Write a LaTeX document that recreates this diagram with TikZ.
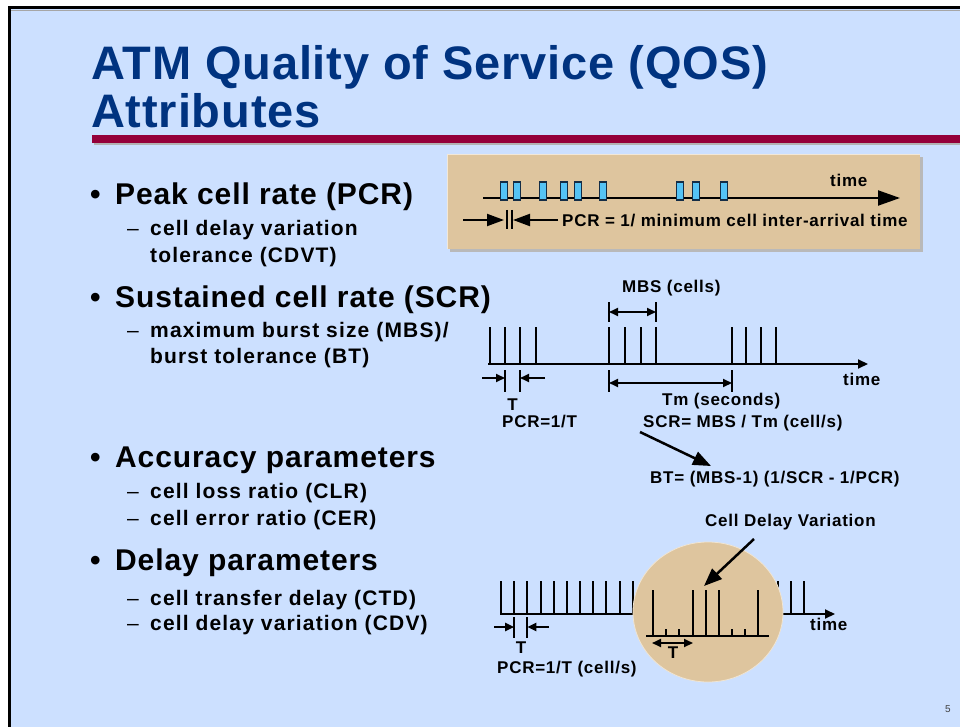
\documentclass[tikz,border=0pt]{standalone}
\usepackage{fontspec}
\setmainfont{Liberation Sans}
\usetikzlibrary{arrows.meta}

\definecolor{slidebg}{RGB}{204,224,255}
\definecolor{titleblue}{RGB}{0,51,128}
\definecolor{barred}{RGB}{148,0,58}
\definecolor{tanfill}{RGB}{222,197,158}
\definecolor{cellblue}{RGB}{85,195,245}
\definecolor{celledge}{RGB}{20,45,70}

% font sizes (1pt = one pixel of the slide)
\newcommand\fnTitle{\fontsize{47}{49}\bfseries\addfontfeatures{LetterSpace=1.8}}
\newcommand\fnTop{\fontsize{30}{32}\bfseries\addfontfeatures{LetterSpace=3}}
\newcommand\fnSub{\fontsize{21}{23}\bfseries\addfontfeatures{LetterSpace=5.5}}
\newcommand\fnDash{\fontsize{21}{23}\mdseries}
\newcommand\fnLab{\fontsize{17}{19}\bfseries\addfontfeatures{LetterSpace=4.4}}
\newcommand\fnPage{\fontsize{10}{12}\mdseries}

\begin{document}
\begin{tikzpicture}[x=1pt,y=-1pt,
  txt/.style={inner sep=0pt, anchor=base west},
  ctxt/.style={inner sep=0pt, anchor=base},
  lab/.style={txt, font=\fnLab},
  toptxt/.style={txt, font=\fnTop},
  subtxt/.style={txt, font=\fnSub},
  dashtxt/.style={txt, font=\fnDash},
  tickline/.style={line width=2pt},
  axisline/.style={line width=2pt, -{Triangle[length=10pt,width=9pt]}},
  bigarrow/.style={line width=2pt, -{Triangle[length=17pt,width=12pt]}},
  dimarrow/.style={line width=2pt, {Triangle[length=9pt,width=8pt]}-{Triangle[length=9pt,width=8pt]}},
  inarrow/.style={line width=2pt, -{Triangle[length=9pt,width=8pt]}},
  pointer/.style={line width=2.5pt, -{Triangle[length=18pt,width=14pt]}},
  cell/.style={fill=cellblue, draw=celledge, line width=1.2pt}]

\useasboundingbox (0,0) rectangle (960,727);
\fill[white] (0,0) rectangle (960,727);

% slide frame
\fill[slidebg] (9,8) rectangle (960,727);
\draw[gray!70, line width=1pt] (11,10.5) -- (960,10.5);
\draw[line width=3pt] (9.5,727) -- (9.5,8) -- (960,8);

% title
\node[txt, font=\fnTitle, text=titleblue] (title1) at (91,80) {ATM Quality of Service (QOS)};
\node[txt, font=\fnTitle, text=titleblue] (title2) at (91,128) {Attributes};
\fill[gray!60] (94,138) rectangle (960,145);
\fill[barred] (92,135) rectangle (960,143);

% bullet list
\node[toptxt] (b1d) at (90,205) {•};
\node[toptxt] (b1) at (115,205) {Peak cell rate (PCR)};
\node[dashtxt] (s1d) at (127,236) {–};
\node[subtxt] (s1) at (150,236) {cell delay variation};
\node[subtxt] (s1b) at (150,262) {tolerance (CDVT)};

\node[toptxt] (b2d) at (90,307) {•};
\node[toptxt] (b2) at (115,307) {Sustained cell rate (SCR)};
\node[dashtxt] (s2d) at (127,337) {–};
\node[subtxt] (s2) at (150,337) {maximum burst size (MBS)/};
\node[subtxt] (s2b) at (150,363) {burst tolerance (BT)};

\node[toptxt] (b3d) at (90,467) {•};
\node[toptxt] (b3) at (115,467) {Accuracy parameters};
\node[dashtxt] (s3d) at (127,498) {–};
\node[subtxt] (s3) at (150,498) {cell loss ratio (CLR)};
\node[dashtxt] (s4d) at (127,525) {–};
\node[subtxt] (s4) at (150,525) {cell error ratio (CER)};

\node[toptxt] (b4d) at (90,570) {•};
\node[toptxt] (b4) at (115,570) {Delay parameters};
\node[dashtxt] (s5d) at (127,605) {–};
\node[subtxt] (s5) at (150,605) {cell transfer delay (CTD)};
\node[dashtxt] (s6d) at (127,630) {–};
\node[subtxt] (s6) at (150,630) {cell delay variation (CDV)};

% ---- PCR panel ----
\fill[gray!55] (450,157) rectangle (923,252);
\fill[tanfill] (447,154) rectangle (920,249);
\draw[white!60!tanfill, line width=1pt] (447.5,249) -- (447.5,154.5) -- (920,154.5);
\coordinate (pA) at (483,198);
\coordinate (pB) at (900,198);
\draw[line width=2pt, -{Triangle[length=22pt,width=15pt]}] (pA) -- (pB);
\foreach \cx in {504,517,543,564,578,603,680,696,724}
  \draw[cell] (\cx-3.5,182) rectangle (\cx+3.5,200);
\node[lab] (ptime) at (830,187) {time};
\coordinate (pL0) at (463,220);
\coordinate (pL1) at (504,220);
\coordinate (pR0) at (558,220);
\coordinate (pR1) at (513,220);
\draw[bigarrow] (pL0) -- (pL1);
\draw[bigarrow] (pR0) -- (pR1);
\draw[line width=1.6pt] (507,210) -- (507,229) (512,210) -- (512,229);
\node[lab] (pcrtxt) at (562,226) {PCR = 1/ minimum cell inter-arrival time};

% ---- SCR timeline ----
\coordinate (sA) at (488,364);
\coordinate (sB) at (868,364);
\draw[axisline] (sA) -- (sB);
\foreach \tx in {490,505,520,536, 609,625,641,656, 732,746,761,776}
  \draw[tickline] (\tx,327) -- (\tx,364);
\node[lab] (stime) at (843,385) {time};
% MBS bracket
\draw[tickline] (609,302) -- (609,322) (656,302) -- (656,322);
\coordinate (m0) at (609,312);
\coordinate (m1) at (656,312);
\draw[dimarrow] (m0) -- (m1);
\node[lab] (mbs) at (622,292) {MBS (cells)};
% Tm bracket
\draw[tickline] (609,370) -- (609,392) (732,370) -- (732,392);
\coordinate (t0) at (609,383);
\coordinate (t1) at (732,383);
\draw[dimarrow] (t0) -- (t1);
\node[lab] (tm) at (662,405) {Tm (seconds)};
% T marker
\draw[tickline] (505,370) -- (505,392) (520,370) -- (520,392);
\coordinate (tl0) at (482,378);
\coordinate (tl1) at (505,378);
\coordinate (tr0) at (545,378);
\coordinate (tr1) at (520,378);
\draw[inarrow] (tl0) -- (tl1);
\draw[inarrow] (tr0) -- (tr1);
\node[ctxt, font=\fnLab] (sT) at (512.5,410) {T};
\node[lab] (spcr) at (502,427) {PCR=1/T};
\node[lab] (scr) at (643,427) {SCR= MBS / Tm (cell/s)};
\node[lab] (bt) at (650,483) {BT= (MBS-1) (1/SCR - 1/PCR)};
\coordinate (scrTail) at (640,432);
\coordinate (btTip) at (711,466);
\draw[pointer] (scrTail) -- (btTip);

% ---- CDV timeline ----
\coordinate (cA) at (500,614);
\coordinate (cB) at (835,614);
\draw[axisline] (cA) -- (cB);
\foreach \k in {0,...,10,21,22,23}
  \draw[tickline] (501+13.17*\k,581) -- (501+13.17*\k,614);
% left T marker
\draw[tickline] (514.2,617) -- (514.2,638) (527.3,617) -- (527.3,638);
\coordinate (cl0) at (494,627);
\coordinate (cl1) at (514.2,627);
\coordinate (cr0) at (549,627);
\coordinate (cr1) at (527.3,627);
\draw[inarrow] (cl0) -- (cl1);
\draw[inarrow] (cr0) -- (cr1);
\node[ctxt, font=\fnLab] (cT) at (521,653) {T};
\node[lab] (cpcr) at (497,673) {PCR=1/T (cell/s)};
\node[lab] (ctime) at (810,630) {time};
% magnified window
\fill[tanfill] (708,612) ellipse [x radius=75, y radius=70];
\draw[white!55!tanfill, line width=0.8pt] (708,612) ellipse [x radius=75, y radius=70];
\draw[tickline] (646,636) -- (769,636);
\foreach \tx in {653,692.5,705.7,718.9,758.4}
  \draw[tickline] (\tx,590) -- (\tx,636);
\foreach \tx in {666.2,679.3,732,745.2}
  \draw[tickline] (\tx,629) -- (\tx,636);
\coordinate (w0) at (652,643);
\coordinate (w1) at (693,643);
\draw[dimarrow] (w0) -- (w1);
\node[ctxt, font=\fnLab] (wT) at (673,658) {T};
\node[lab] (cdv) at (705,526) {Cell Delay Variation};
\coordinate (cdvTail) at (754,539);
\coordinate (cdvTip) at (704,586);
\draw[pointer] (cdvTail) -- (cdvTip);

% page number
\node[txt, font=\fnPage, text=black!75] (pg) at (945,712) {5};
\end{tikzpicture}
\end{document}
